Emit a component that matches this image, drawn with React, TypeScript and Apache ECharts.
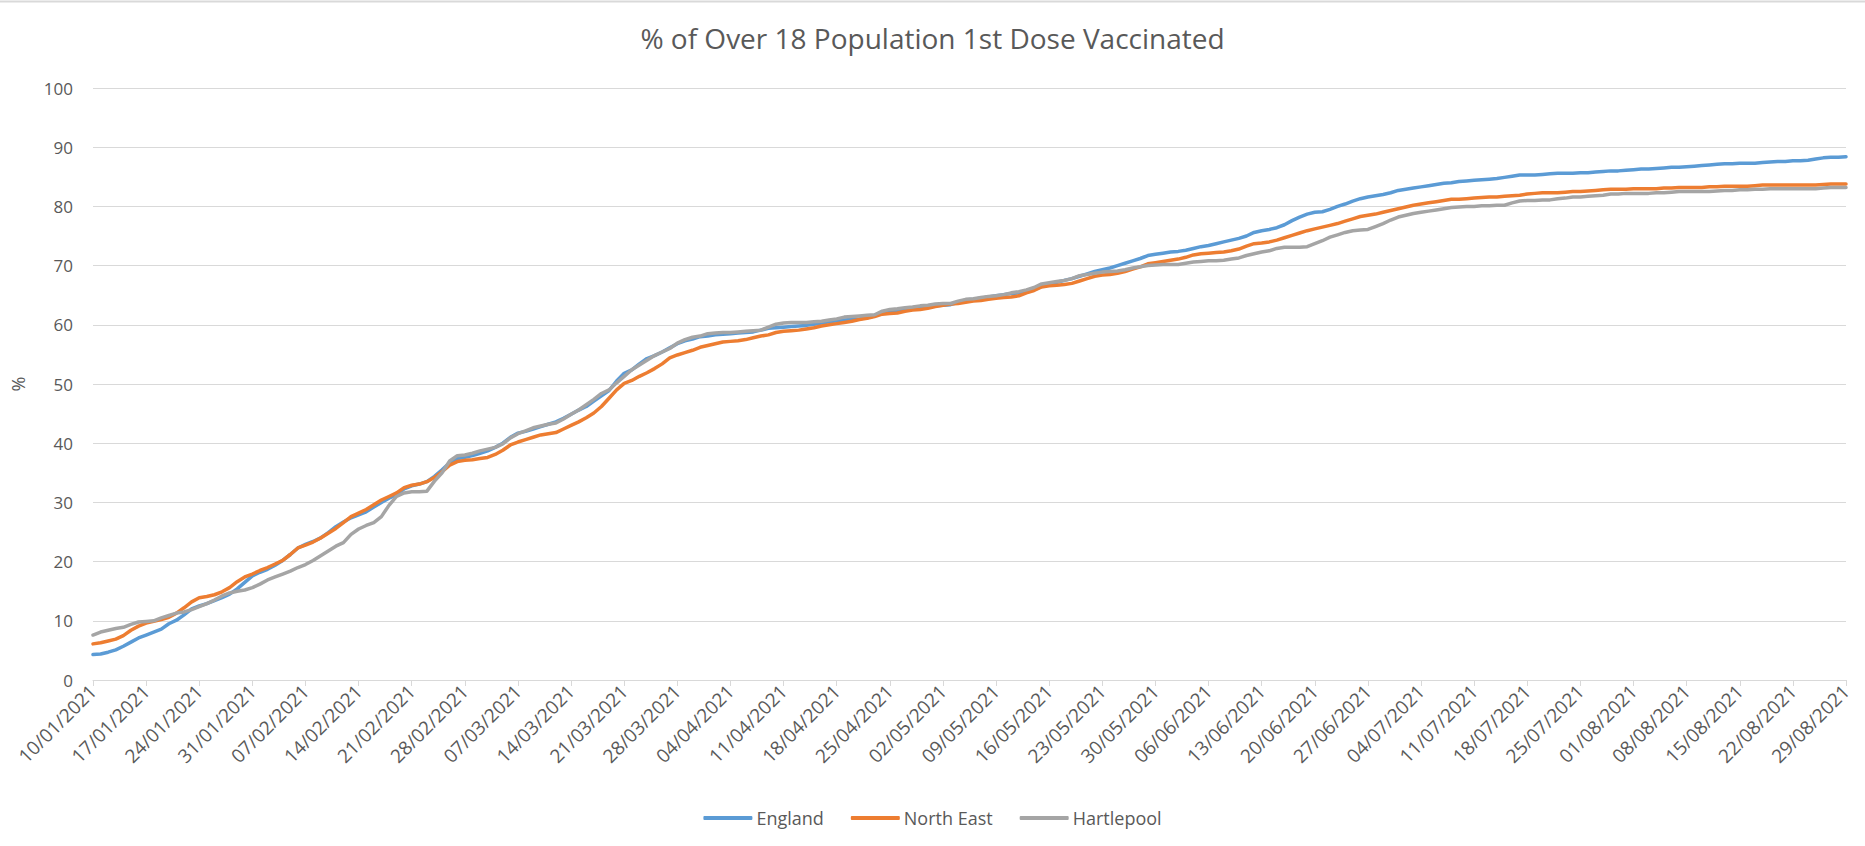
import React, { useEffect, useRef } from "react";
import * as echarts from "echarts";

const TITLE = "% of Over 18 Population 1st Dose Vaccinated";
const SERIES_NAMES = ["England", "North East", "Hartlepool"];
const COLORS = ["#5b9bd5", "#ed7d31", "#a5a5a5"];

// Daily categories: 10/01/2021 .. 29/08/2021
const START_DATE = "2021-01-10";
const DAY_COUNT = 232;
const dates: string[] = (() => {
  const out: string[] = [];
  const t0 = Date.parse(START_DATE + "T00:00:00Z");
  for (let i = 0; i < DAY_COUNT; i++) {
    const d = new Date(t0 + i * 86400000);
    const dd = String(d.getUTCDate()).padStart(2, "0");
    const mm = String(d.getUTCMonth() + 1).padStart(2, "0");
    out.push(`${dd}/${mm}/${d.getUTCFullYear()}`);
  }
  return out;
})();

const england = [
  4.3, 4.4, 4.7, 5.1, 5.7, 6.4, 7.1,
  7.6, 8.1, 8.6, 9.5, 10.1, 11.0, 12.0,
  12.5, 12.9, 13.4, 13.9, 14.5, 15.4, 16.5,
  17.6, 18.2, 18.7, 19.4, 20.2, 21.2, 22.3,
  22.9, 23.4, 24.0, 24.9, 25.9, 26.7, 27.4,
  27.9, 28.4, 29.2, 30.0, 30.7, 31.3, 32.3,
  32.8, 33.1, 33.5, 34.4, 35.5, 36.7, 37.4,
  37.6, 37.9, 38.3, 38.7, 39.3, 40.0, 41.0,
  41.7, 42.0, 42.4, 42.8, 43.2, 43.6, 44.2,
  44.9, 45.6, 46.2, 47.1, 48.0, 48.9, 50.5,
  51.8, 52.4, 53.4, 54.3, 54.8, 55.4, 56.1,
  56.8, 57.3, 57.6, 58.0, 58.1, 58.3, 58.4,
  58.5, 58.6, 58.7, 58.8, 59.1, 59.4, 59.5,
  59.6, 59.7, 59.8, 59.9, 60.1, 60.3, 60.5,
  60.7, 60.8, 60.9, 61.0, 61.2, 61.5, 62.0,
  62.2, 62.4, 62.5, 62.7, 62.9, 63.0, 63.2,
  63.3, 63.4, 63.8, 64.2, 64.3, 64.5, 64.7,
  64.9, 65.1, 65.3, 65.4, 65.6, 65.9, 66.5,
  66.9, 67.2, 67.5, 67.8, 68.2, 68.6, 69.0,
  69.3, 69.6, 70.0, 70.4, 70.8, 71.2, 71.7,
  71.9, 72.1, 72.3, 72.4, 72.6, 72.9, 73.2,
  73.4, 73.7, 74.0, 74.3, 74.6, 75.0, 75.6,
  75.9, 76.1, 76.4, 76.9, 77.6, 78.2, 78.7,
  79.0, 79.1, 79.5, 80.0, 80.4, 80.9, 81.3,
  81.6, 81.8, 82.0, 82.3, 82.7, 82.9, 83.1,
  83.3, 83.5, 83.7, 83.9, 84.0, 84.2, 84.3,
  84.4, 84.5, 84.6, 84.7, 84.9, 85.1, 85.3,
  85.3, 85.3, 85.4, 85.5, 85.6, 85.6, 85.6,
  85.7, 85.7, 85.8, 85.9, 86.0, 86.0, 86.1,
  86.2, 86.3, 86.3, 86.4, 86.5, 86.6, 86.6,
  86.7, 86.8, 86.9, 87.0, 87.1, 87.2, 87.2,
  87.3, 87.3, 87.3, 87.4, 87.5, 87.6, 87.6,
  87.7, 87.7, 87.8, 88.0, 88.2, 88.3, 88.3,
  88.4,
];

const northEast = [
  6.1, 6.3, 6.6, 6.9, 7.5, 8.4, 9.1,
  9.6, 9.9, 10.2, 10.6, 11.3, 12.2, 13.2,
  13.9, 14.1, 14.4, 14.9, 15.6, 16.6, 17.4,
  17.9, 18.5, 19.0, 19.6, 20.2, 21.2, 22.3,
  22.8, 23.3, 24.0, 24.8, 25.6, 26.6, 27.6,
  28.2, 28.8, 29.6, 30.4, 31.0, 31.6, 32.5,
  32.9, 33.1, 33.5, 34.2, 35.2, 36.3, 36.9,
  37.1, 37.2, 37.4, 37.6, 38.1, 38.8, 39.7,
  40.2, 40.6, 41.0, 41.4, 41.6, 41.8, 42.4,
  43.0, 43.6, 44.3, 45.1, 46.2, 47.6, 49.0,
  50.1, 50.6, 51.3, 51.9, 52.6, 53.4, 54.4,
  54.9, 55.3, 55.7, 56.2, 56.5, 56.8, 57.1,
  57.2, 57.3, 57.5, 57.8, 58.1, 58.3, 58.7,
  58.9, 59.0, 59.1, 59.3, 59.5, 59.8, 60.0,
  60.2, 60.4, 60.6, 60.9, 61.1, 61.4, 61.8,
  61.9, 62.0, 62.3, 62.5, 62.6, 62.8, 63.1,
  63.3, 63.5, 63.6, 63.8, 64.0, 64.1, 64.3,
  64.5, 64.6, 64.7, 64.9, 65.4, 65.8, 66.4,
  66.6, 66.7, 66.8, 67.0, 67.4, 67.8, 68.2,
  68.4, 68.5, 68.7, 69.0, 69.4, 69.8, 70.3,
  70.5, 70.7, 70.9, 71.1, 71.4, 71.8, 72.0,
  72.1, 72.2, 72.3, 72.5, 72.8, 73.3, 73.7,
  73.8, 74.0, 74.3, 74.7, 75.1, 75.5, 75.9,
  76.2, 76.5, 76.8, 77.1, 77.5, 77.9, 78.3,
  78.5, 78.7, 79.0, 79.3, 79.6, 79.9, 80.2,
  80.4, 80.6, 80.8, 81.0, 81.2, 81.2, 81.3,
  81.4, 81.5, 81.6, 81.6, 81.7, 81.8, 81.9,
  82.1, 82.2, 82.3, 82.3, 82.3, 82.4, 82.5,
  82.5, 82.6, 82.7, 82.8, 82.9, 82.9, 82.9,
  83.0, 83.0, 83.0, 83.0, 83.1, 83.1, 83.2,
  83.2, 83.2, 83.2, 83.3, 83.3, 83.4, 83.4,
  83.4, 83.4, 83.5, 83.6, 83.6, 83.6, 83.6,
  83.6, 83.6, 83.6, 83.6, 83.7, 83.8, 83.8,
  83.8,
];

const hartlepool = [
  7.6, 8.1, 8.4, 8.7, 8.9, 9.4, 9.8,
  9.9, 10.0, 10.5, 10.9, 11.3, 11.5, 11.9,
  12.4, 12.9, 13.5, 14.2, 14.7, 15.0, 15.2,
  15.6, 16.2, 16.9, 17.4, 17.9, 18.4, 19.0,
  19.5, 20.2, 21.0, 21.8, 22.6, 23.2, 24.6,
  25.5, 26.1, 26.6, 27.6, 29.5, 31.0, 31.6,
  31.8, 31.8, 31.9, 33.6, 35.0, 37.0, 37.9,
  38.0, 38.3, 38.7, 39.0, 39.3, 39.9, 40.9,
  41.6, 42.1, 42.6, 42.9, 43.2, 43.4, 44.1,
  44.9, 45.6, 46.5, 47.4, 48.4, 49.0, 50.2,
  51.3, 52.4, 53.2, 54.0, 54.8, 55.4, 56.0,
  56.9, 57.5, 57.9, 58.1, 58.5, 58.6, 58.7,
  58.7, 58.8, 58.9, 59.0, 59.1, 59.6, 60.1,
  60.3, 60.4, 60.4, 60.4, 60.5, 60.6, 60.8,
  61.0, 61.3, 61.4, 61.5, 61.6, 61.7, 62.3,
  62.6, 62.7, 62.9, 63.0, 63.2, 63.3, 63.5,
  63.6, 63.6, 64.0, 64.3, 64.4, 64.6, 64.8,
  64.9, 65.1, 65.4, 65.6, 65.9, 66.3, 66.9,
  67.1, 67.3, 67.5, 67.8, 68.3, 68.5, 68.7,
  68.9, 69.0, 69.1, 69.3, 69.6, 69.8, 70.0,
  70.1, 70.2, 70.2, 70.2, 70.4, 70.6, 70.7,
  70.8, 70.8, 70.9, 71.1, 71.3, 71.7, 72.0,
  72.3, 72.5, 72.9, 73.1, 73.1, 73.1, 73.2,
  73.7, 74.2, 74.8, 75.2, 75.6, 75.9, 76.0,
  76.1, 76.6, 77.1, 77.7, 78.2, 78.5, 78.8,
  79.0, 79.2, 79.4, 79.6, 79.8, 79.9, 80.0,
  80.0, 80.1, 80.1, 80.2, 80.2, 80.6, 80.9,
  81.0, 81.0, 81.1, 81.1, 81.3, 81.4, 81.6,
  81.6, 81.7, 81.8, 81.9, 82.1, 82.1, 82.2,
  82.2, 82.2, 82.2, 82.3, 82.3, 82.4, 82.5,
  82.5, 82.5, 82.5, 82.5, 82.6, 82.7, 82.7,
  82.8, 82.8, 82.9, 82.9, 83.0, 83.0, 83.0,
  83.0, 83.0, 83.0, 83.0, 83.1, 83.2, 83.2,
  83.2,
];

const SERIES_VALUES = [england, northEast, hartlepool];

const FONT = "'Open Sans', 'Noto Sans', sans-serif";
const TEXT_COLOR = "#595959";
const GRID_COLOR = "#d9d9d9";

export default function App() {
  const ref = useRef<HTMLDivElement>(null);

  useEffect(() => {
    if (!ref.current) return;
    const chart = echarts.init(ref.current, undefined, { renderer: "svg" });
    chart.setOption({
      animation: false,
      backgroundColor: "#ffffff",
      textStyle: { fontFamily: FONT },
      title: {
        text: TITLE,
        left: "center",
        top: 19,
        textStyle: { fontFamily: FONT, fontSize: 28, fontWeight: "normal", color: TEXT_COLOR },
      },
      graphic: [
        {
          type: "line",
          shape: { x1: 0, y1: 1.5, x2: 1865, y2: 1.5 },
          style: { stroke: GRID_COLOR, lineWidth: 2 },
        },
      ],
      legend: {
        data: SERIES_NAMES,
        top: 804,
        left: "center",
        icon: "roundRect",
        itemWidth: 49,
        itemHeight: 4,
        itemGap: 27,
        textStyle: { fontFamily: FONT, fontSize: 18, color: TEXT_COLOR, padding: [0, 0, 0, -1] },
      },
      grid: { left: 93, right: 19, top: 88, bottom: 166, containLabel: false },
      xAxis: {
        type: "category",
        data: dates,
        boundaryGap: false,
        axisLine: { lineStyle: { color: GRID_COLOR, width: 1 } },
        axisTick: { show: true, interval: 6, length: 6, lineStyle: { color: GRID_COLOR } },
        axisLabel: {
          interval: 6,
          rotate: 45,
          margin: 8,
          fontFamily: FONT,
          fontSize: 19,
          color: TEXT_COLOR,
        },
        splitLine: { show: false },
      },
      yAxis: {
        type: "value",
        min: 0,
        max: 100,
        interval: 10,
        name: "%",
        nameLocation: "middle",
        nameGap: 66,
        nameTextStyle: { fontFamily: FONT, fontSize: 18, color: TEXT_COLOR },
        axisLine: { show: false },
        axisTick: { show: false },
        axisLabel: { margin: 20, fontFamily: FONT, fontSize: 17, color: TEXT_COLOR },
        splitLine: { lineStyle: { color: GRID_COLOR, width: 1 } },
      },
      series: SERIES_NAMES.map((name, i) => ({
        name,
        type: "line",
        data: SERIES_VALUES[i],
        symbol: "none",
        showSymbol: false,
        lineStyle: { color: COLORS[i], width: 3.5, cap: "round", join: "round" },
        itemStyle: { color: COLORS[i] },
      })),
    });
    return () => chart.dispose();
  }, []);

  return (
    <div
      ref={ref}
      style={{ position: "fixed", left: 0, top: 0, width: 1865, height: 846 }}
    />
  );
}
